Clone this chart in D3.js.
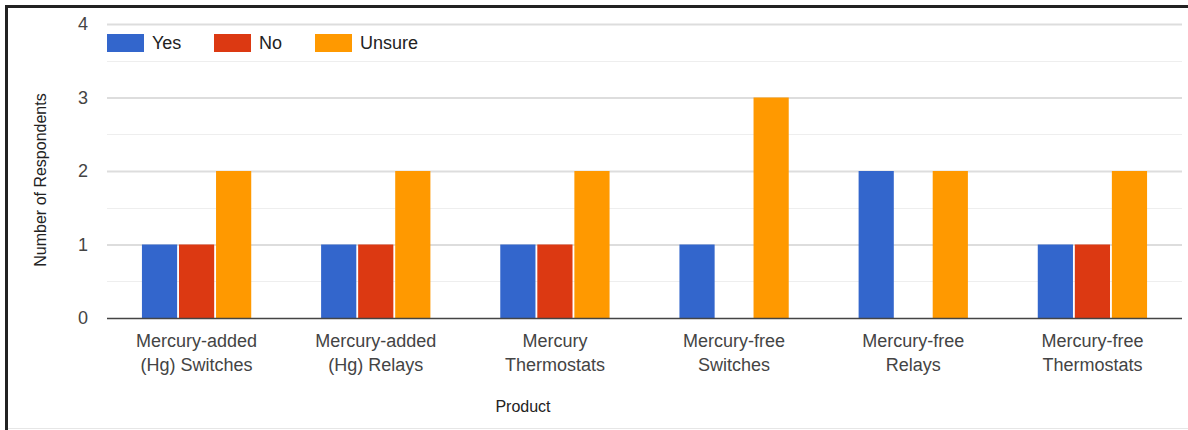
<!DOCTYPE html>
<html><head><meta charset="utf-8">
<script src="https://cdn.jsdelivr.net/npm/d3@7"></script>
<style>html,body{margin:0;padding:0;background:#fff;}svg{display:block;font-family:"Liberation Sans",Arial,sans-serif;}</style>
</head><body>
<svg id="chart" width="1188" height="430"></svg>
<script>
const categories = [
  ["Mercury-added", "(Hg) Switches"],
  ["Mercury-added", "(Hg) Relays"],
  ["Mercury", "Thermostats"],
  ["Mercury-free", "Switches"],
  ["Mercury-free", "Relays"],
  ["Mercury-free", "Thermostats"]
];
const seriesNames = ["Yes", "No", "Unsure"];
const yesValues = [1, 1, 1, 1, 2, 1];
const noValues = [1, 1, 1, 0, 0, 1];
const unsureValues = [2, 2, 2, 3, 2, 2];
const yTicks = [0, 1, 2, 3, 4];
const minorTicks = [0.5, 1.5, 2.5, 3.5];
const colors = ["#3366cc", "#dc3912", "#ff9900"];

(function() {
const series = [yesValues, noValues, unsureValues];
const svg = d3.select("#chart");
const pLeft = 107, pRight = 1182, pTop = 24, pBottom = 318;

// frame
svg.append("rect").attr("x", 0).attr("y", 0).attr("width", 1188).attr("height", 430).attr("fill", "#fff");
svg.append("line").attr("x1", 6.5).attr("x2", 6.5).attr("y1", 5).attr("y2", 430).attr("stroke", "#222").attr("stroke-width", 3);
svg.append("line").attr("x1", 5).attr("x2", 1188).attr("y1", 6.5).attr("y2", 6.5).attr("stroke", "#222").attr("stroke-width", 3);
svg.append("line").attr("x1", 8).attr("x2", 1188).attr("y1", 428.5).attr("y2", 428.5).attr("stroke", "#e6e6e6").attr("stroke-width", 1);

const idx = d3.range(categories.length);
const x0 = d3.scaleBand().domain(idx).range([pLeft, pRight]).paddingInner(0.39).paddingOuter(0.195);
const x1 = d3.scaleBand().domain(d3.range(seriesNames.length)).range([0, x0.bandwidth()]).paddingInner(0.05);
const y = d3.scaleLinear().domain([0, 4]).range([pBottom, pTop]);

// minor grid
svg.append("g").selectAll("line").data(minorTicks).join("line")
  .attr("x1", pLeft).attr("x2", pRight)
  .attr("y1", d => Math.round(y(d)) + 0.5).attr("y2", d => Math.round(y(d)) + 0.5)
  .attr("stroke", "#eeeeee").attr("stroke-width", 1);

// major grid via axis
const yAxis = d3.axisLeft(y).tickValues(yTicks).tickSize(-(pRight - pLeft)).tickPadding(19).tickFormat(d3.format("d"));
const gy = svg.append("g").attr("transform", `translate(${pLeft},0)`).call(yAxis);
gy.select(".domain").remove();
gy.selectAll(".tick line").attr("stroke", d => d === 0 ? "none" : "#dddddd").attr("stroke-width", 2);
gy.selectAll(".tick text").attr("fill", "#444").attr("font-size", 18).attr("font-family", "Liberation Sans, Arial, sans-serif");

// bars
const groups = svg.append("g").selectAll("g").data(idx).join("g")
  .attr("transform", i => `translate(${x0(i)},0)`);
groups.selectAll("rect").data(i => series.map((s, k) => ({k, v: s[i]}))).join("rect")
  .attr("x", d => x1(d.k)).attr("width", x1.bandwidth())
  .attr("y", d => y(d.v)).attr("height", d => y(0) - y(d.v))
  .attr("fill", d => colors[d.k]);

// baseline
svg.append("line").attr("x1", pLeft).attr("x2", pRight).attr("y1", pBottom + 0.5).attr("y2", pBottom + 0.5)
  .attr("stroke", "#444").attr("stroke-width", 1.5);

// x labels
const xl = svg.append("g").selectAll("text").data(idx).join("text")
  .attr("x", i => x0(i) + x0.bandwidth() / 2).attr("y", 347)
  .attr("text-anchor", "middle").attr("font-size", 18).attr("fill", "#444");
xl.selectAll("tspan").data(i => categories[i]).join("tspan")
  .attr("x", function() { return d3.select(this.parentNode).attr("x"); })
  .attr("dy", (d, j) => j === 0 ? 0 : 24).text(d => d);

// axis titles
svg.append("text").attr("x", 523).attr("y", 412).attr("text-anchor", "middle")
  .attr("font-size", 16).attr("fill", "#222").text("Product");
svg.append("text").attr("transform", "translate(46,180) rotate(-90)").attr("text-anchor", "middle")
  .attr("font-size", 16).attr("fill", "#222").text("Number of Respondents");

// legend
const legX = [107, 214, 315];
const leg = svg.append("g").selectAll("g").data(seriesNames).join("g")
  .attr("transform", (d, i) => `translate(${legX[i]},34)`);
leg.append("rect").attr("width", 37).attr("height", 18).attr("fill", (d, i) => colors[i]);
leg.append("text").attr("x", 45).attr("y", 15).attr("font-size", 18).attr("fill", "#222").text(d => d);
})();
</script>
</body></html>
